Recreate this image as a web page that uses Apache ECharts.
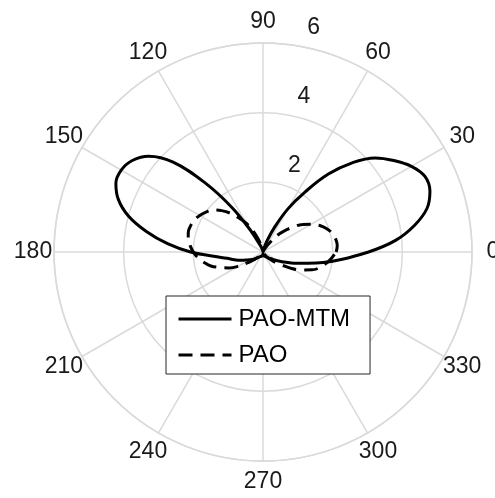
<!DOCTYPE html>
<html>
<head>
<meta charset="utf-8">
<script src="https://cdn.jsdelivr.net/npm/echarts@6/dist/echarts.min.js"></script>
<style>
  html, body { margin: 0; padding: 0; background: #fff; }
  #main { width: 495px; height: 498px; }
</style>
</head>
<body>
<div id="main"></div>
<script>
// sample angles in degrees (0 = right, counter-clockwise)
const angles = [
  0, 5, 10, 15, 20, 25, 30, 35, 40, 45,
  50, 55, 60, 65, 70, 75, 80, 85, 90, 95,
  100, 105, 110, 115, 120, 125, 130, 135, 140, 145,
  150, 155, 160, 165, 170, 175, 180, 185, 190, 195,
  200, 205, 210, 215, 220, 225, 230, 235, 240, 245,
  250, 255, 260, 265, 270, 275, 280, 285, 290, 295,
  300, 305, 310, 315, 320, 325, 330, 335, 340, 345,
  350, 355, 360
];

// PAO-MTM (solid)
const mtmR = [
  3.03, 3.82, 4.42, 4.88, 5.10, 5.13, 4.92, 4.58, 4.20, 3.62,
  2.92, 2.10, 1.43, 0.78, 0.35, 0.12, 0.04, 0.01, 0.00, 0.01,
  0.03, 0.08, 0.15, 0.28, 0.72, 1.58, 2.60, 3.65, 4.28, 4.58,
  4.70, 4.66, 4.42, 4.00, 3.40, 2.75, 2.08, 1.42, 1.05, 0.85,
  0.70, 0.55, 0.45, 0.38, 0.30, 0.25, 0.20, 0.17, 0.15, 0.14,
  0.13, 0.12, 0.10, 0.08, 0.06, 0.08, 0.10, 0.12, 0.13, 0.14,
  0.15, 0.18, 0.22, 0.26, 0.30, 0.40, 0.52, 0.68, 0.95, 1.25,
  1.75, 2.32, 3.03
];

// PAO (dashed)
const paoR = [
  2.10, 2.14, 2.12, 2.06, 1.95, 1.80, 1.60, 1.38, 1.10, 0.85,
  0.60, 0.30, 0.12, 0.05, 0.02, 0.01, 0.01, 0.01, 0.00, 0.01,
  0.05, 0.18, 0.38, 0.65, 0.95, 1.18, 1.45, 1.68, 1.88, 2.00,
  2.10, 2.17, 2.21, 2.22, 2.18, 2.10, 2.00, 1.88, 1.72, 1.55,
  1.30, 1.08, 0.82, 0.55, 0.35, 0.22, 0.12, 0.06, 0.04, 0.03,
  0.03, 0.03, 0.03, 0.03, 0.03, 0.03, 0.03, 0.03, 0.03, 0.04,
  0.06, 0.12, 0.20, 0.30, 0.45, 0.65, 0.95, 1.22, 1.50, 1.70,
  1.85, 1.98, 2.10
];

const seriesNames = ['PAO-MTM', 'PAO'];
const thetaTicks = [0, 30, 60, 90, 120, 150, 180, 210, 240, 270, 300, 330];
const rMax = 6;
const rStep = 2;

const font = '"Liberation Sans", Arial, Helvetica, sans-serif';
const gridColor = '#dadada';
const textColor = '#1a1a1a';
const labelDist = 21; // label centres sit this far outside the outer ring

function toPolar(rs) {
  return angles.map(function (a, i) { return [rs[i], a]; });
}

// echarts aligns angle labels by side; size a box per label so the text
// ends up centred on a circle, like the original plot
const thetaRich = {};
thetaTicks.forEach(function (t) {
  const rad = t * Math.PI / 180;
  const c = Math.abs(Math.cos(rad)), s = Math.abs(Math.sin(rad));
  const st = { fontSize: 23, fontFamily: font, color: textColor, align: 'center', verticalAlign: 'middle' };
  if (c >= 0.3) st.width = 2 * c * labelDist;
  if (s >= 0.3) { st.height = 2 * s * labelDist; st.lineHeight = 2 * s * labelDist; }
  thetaRich['t' + t] = st;
});

const chart = echarts.init(document.getElementById('main'));
chart.setOption({
  animation: false,
  backgroundColor: '#fff',
  polar: [
    { center: [263, 252], radius: 209 },
    // second polar only carries the radius tick labels (2, 4, 6)
    { center: [263, 252], radius: [20, 229] }
  ],
  angleAxis: [
    {
      polarIndex: 0,
      type: 'value',
      min: 0,
      max: 360,
      interval: 30,
      startAngle: 0,
      clockwise: false,
      axisLine: { show: true, lineStyle: { color: gridColor, width: 1.5 } },
      axisTick: { show: false },
      splitLine: { show: true, lineStyle: { color: gridColor, width: 1.5 } },
      axisLabel: {
        fontSize: 23,
        fontFamily: font,
        color: textColor,
        margin: 0,
        formatter: function (v) { return '{t' + v + '|' + v + '}'; },
        rich: thetaRich
      }
    },
    {
      polarIndex: 1,
      type: 'value',
      min: 0,
      max: 360,
      startAngle: 82,
      show: false
    }
  ],
  radiusAxis: [
    {
      polarIndex: 0,
      type: 'value',
      min: 0,
      max: rMax,
      interval: rStep,
      axisLine: { show: false },
      axisTick: { show: false },
      axisLabel: { show: false },
      splitLine: { show: true, lineStyle: { color: gridColor, width: 1.5 } }
    },
    {
      polarIndex: 1,
      type: 'value',
      min: 0,
      max: rMax,
      interval: rStep,
      axisLine: { show: false },
      axisTick: { show: false },
      splitLine: { show: false },
      axisLabel: {
        showMinLabel: false,
        fontSize: 23,
        fontFamily: font,
        color: textColor,
        margin: -19,
        align: 'center',
        verticalAlign: 'middle'
      }
    }
  ],
  legend: {
    orient: 'vertical',
    left: 166,
    top: 296,
    padding: [10, 20, 6, 11],
    itemWidth: 53,
    itemHeight: 14,
    itemGap: 10,
    backgroundColor: '#fff',
    borderColor: '#262626',
    borderWidth: 1,
    selectedMode: false,
    itemStyle: { color: 'transparent', borderWidth: 0, opacity: 0 },
    lineStyle: { width: 3 },
    textStyle: { fontSize: 24, fontFamily: font, color: '#000', lineHeight: 26, padding: [0, 0, 0, 2] },
    data: seriesNames
  },
  series: [
    {
      name: seriesNames[0],
      type: 'line',
      coordinateSystem: 'polar',
      polarIndex: 0,
      symbol: 'none',
      smooth: 0.4,
      lineStyle: { color: '#000', width: 3, type: 'solid' },
      itemStyle: { color: '#000' },
      data: toPolar(mtmR)
    },
    {
      name: seriesNames[1],
      type: 'line',
      coordinateSystem: 'polar',
      polarIndex: 0,
      symbol: 'none',
      smooth: 0.4,
      lineStyle: { color: '#000', width: 3, type: [14, 8] },
      itemStyle: { color: '#000' },
      data: toPolar(paoR)
    }
  ]
});
</script>
</body>
</html>
